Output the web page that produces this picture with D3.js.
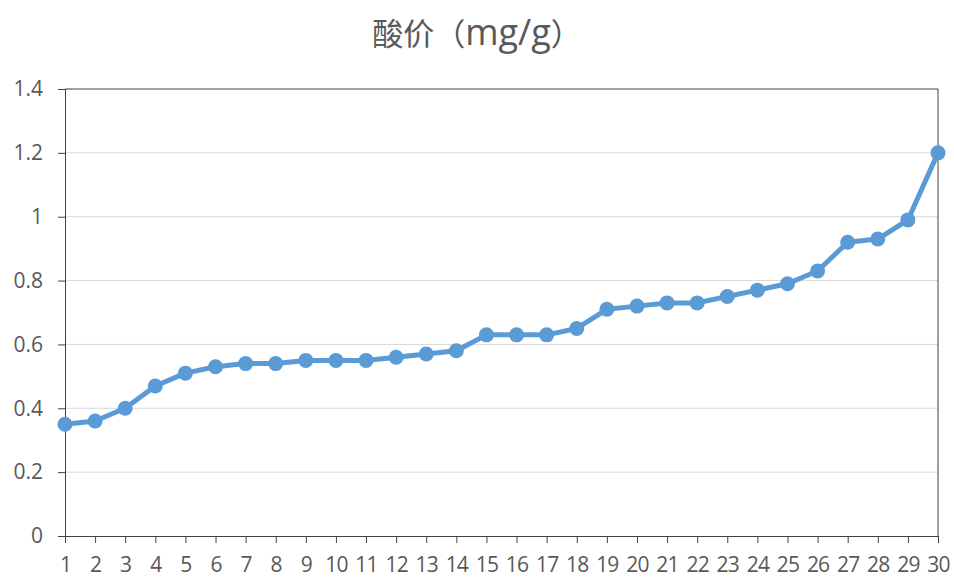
<!DOCTYPE html>
<html><head><meta charset="utf-8">
<script src="https://cdn.jsdelivr.net/npm/d3@7"></script>
<style>body{margin:0;background:#fff;} svg{display:block;}</style>
</head><body>
<svg id="c" width="954" height="581"></svg>
<script>
const categories = d3.range(1, 31).map(String);
const values = [0.35,0.36,0.40,0.47,0.51,0.53,0.54,0.54,0.55,0.55,0.55,0.56,0.57,0.58,0.63,0.63,0.63,0.65,0.71,0.72,0.73,0.73,0.75,0.77,0.79,0.83,0.92,0.93,0.99,1.20];
const yTicks = [0,0.2,0.4,0.6,0.8,1,1.2,1.4];
const titleMain = "酸价";
const titleUnit = "（mg/g）";

const svg = d3.select("#c");
const L = 65, R = 938, T = 89, B = 536;
const x = d3.scalePoint().domain(categories).range([L, R]).padding(0);
const y = d3.scaleLinear().domain([0, 1.4]).range([B, T]);
const font = "'Open Sans','Noto Sans CJK SC',sans-serif";
const textCol = "#595959";

const t = svg.append("text").attr("x", 477).attr("y", 45).attr("text-anchor","middle")
  .attr("font-family","'Noto Sans CJK SC',sans-serif").attr("font-size",31).attr("fill",textCol);
t.append("tspan").text(titleMain);
t.append("tspan").attr("font-family","'Noto Sans CJK SC',sans-serif").attr("font-size",31).text("（");
t.append("tspan").attr("font-family","'Open Sans',sans-serif").attr("font-size",36).text("mg/g");
t.append("tspan").attr("font-family","'Noto Sans CJK SC',sans-serif").attr("font-size",31).text("）");

// gridlines
svg.append("g").selectAll("line").data(yTicks.slice(1, -1)).join("line")
  .attr("x1", L).attr("x2", R).attr("y1", d=>y(d)).attr("y2", d=>y(d))
  .attr("stroke","#d9d9d9").attr("stroke-width",1);

// frame top & right
svg.append("line").attr("x1",L).attr("x2",R).attr("y1",T).attr("y2",T).attr("stroke","#404040");
svg.append("line").attr("x1",R).attr("x2",R).attr("y1",T).attr("y2",B).attr("stroke","#404040");

const yAxis = svg.append("g").attr("transform",`translate(${L},0)`)
  .call(d3.axisLeft(y).tickValues(yTicks).tickSize(7).tickPadding(15).tickFormat(d=>String(d)));
const xAxis = svg.append("g").attr("transform",`translate(0,${B})`)
  .call(d3.axisBottom(x).tickSize(7).tickPadding(14));
[yAxis, xAxis].forEach(g=>{
  g.select(".domain").attr("stroke","#404040");
  g.selectAll(".tick line").attr("stroke","#404040");
  g.selectAll("text").attr("font-family",font).attr("font-size",21).attr("fill",textCol);
});
xAxis.selectAll("text").attr("letter-spacing",-0.8);

const line = d3.line().x((d,i)=>x(categories[i])).y(d=>y(d));
svg.append("path").datum(values).attr("d",line).attr("fill","none")
  .attr("stroke","#5b9bd5").attr("stroke-width",5).attr("stroke-linejoin","round");
svg.append("g").selectAll("circle").data(values).join("circle")
  .attr("cx",(d,i)=>x(categories[i])).attr("cy",d=>y(d)).attr("r",7.5).attr("fill","#5b9bd5");
</script>
</body></html>
